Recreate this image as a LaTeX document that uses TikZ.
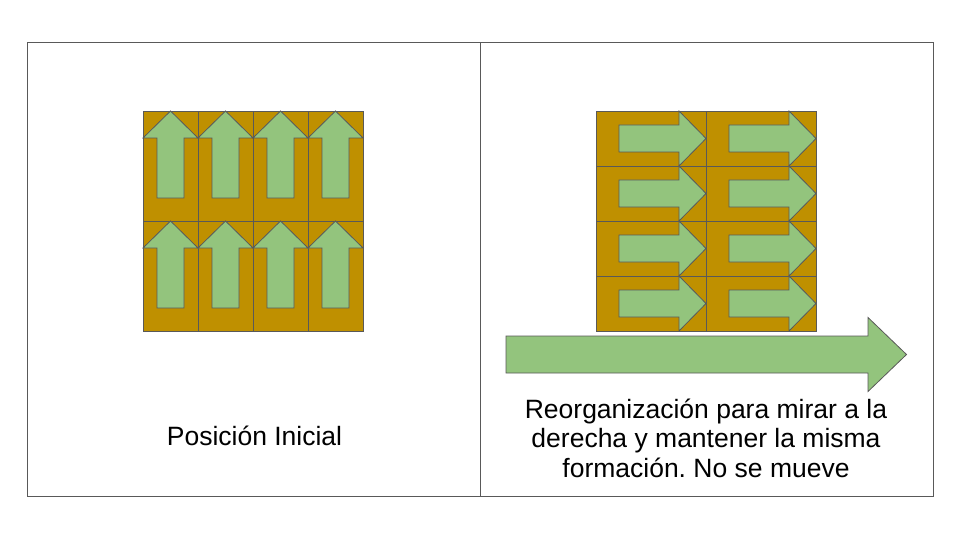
\documentclass[tikz,border=0pt]{standalone}
\usepackage{fontspec}
\setmainfont{Liberation Sans}
\usepackage{tikz}
\usetikzlibrary{positioning}

\definecolor{cellbrown}{HTML}{BF9000}
\definecolor{arrowgreen}{HTML}{93C47D}
\definecolor{linegray}{HTML}{595959}

\frenchspacing

\begin{document}
\begin{tikzpicture}[
    x=1pt, y=-1pt,
    panel/.style={rectangle, draw=linegray, line width=1pt, minimum width=453pt, minimum height=453pt, inner sep=0pt, outer sep=0pt},
    cell/.style={draw=linegray, fill=cellbrown, line width=0.8pt},
    arrowshape/.style={draw=linegray, fill=arrowgreen, line width=0.8pt},
    caption/.style={align=center, inner sep=0pt, font=\fontsize{26.5}{29.5}\selectfont}
]

% Canvas
\useasboundingbox (0,0) rectangle (960,540);

% Two panels side by side
\node[panel, anchor=north west] (initial) at (27,43) {};
\node[panel, right=0pt of initial] (reorg) {};

% Initial position: 4 x 2 cells, arrows up
\foreach \col in {0,...,3}
  \foreach \row in {0,1} {
    \begin{scope}[shift={(143+55*\col,111+110*\row)}]
      \draw[cell] (0,0) rectangle (55,110);
      \draw[arrowshape] (27.5,0) -- (55,27) -- (41,27) -- (41,87) -- (14,87) -- (14,27) -- (0,27) -- cycle;
    \end{scope}
  }

% Reorganized: 2 x 4 cells, arrows right
\foreach \col in {0,1}
  \foreach \row in {0,...,3} {
    \begin{scope}[shift={(596+110*\col,111+55*\row)}]
      \draw[cell] (0,0) rectangle (110,55);
      \draw[arrowshape] (110,27.5) -- (83,55) -- (83,41) -- (23,41) -- (23,14) -- (83,14) -- (83,0) -- cycle;
    \end{scope}
  }

% Big direction arrow
\draw[arrowshape] (506,336) -- (868,336) -- (868,317.5) -- (906.5,354.5) -- (868,391.5) -- (868,373) -- (506,373) -- cycle;

% Captions
\node[caption, anchor=base] (initialtext) at (254.5,445.5) {Posición Inicial};
\node[caption] (reorgtext) at (706,438) {Reorganización para mirar a la\\derecha y mantener la misma\\formación. No se mueve};

\end{tikzpicture}
\end{document}
